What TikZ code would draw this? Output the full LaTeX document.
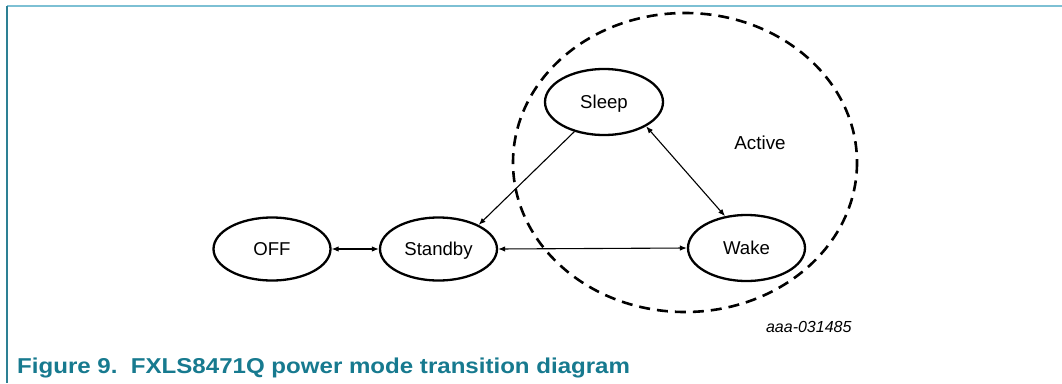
\documentclass[tikz,border=0pt]{standalone}
\usepackage{fontspec}
\setmainfont{Liberation Sans}
\newfontfamily\capfont[FakeStretch=1.12]{Liberation Sans}
\usetikzlibrary{shapes.geometric,arrows.meta}
\definecolor{captionteal}{RGB}{23,122,143}
\definecolor{topblue}{RGB}{125,192,212}
\definecolor{sideteal}{RGB}{45,128,148}
\begin{document}
\begin{tikzpicture}[x=1pt,y=-1pt,
  state/.style={ellipse,draw,line width=2.3pt,minimum width=117pt,minimum height=63pt,inner sep=0pt,text height=13.3pt,text depth=0pt,font=\fontsize{18.6}{20}\selectfont},
  conn/.style={line width=1.1pt,{Latex[length=7pt,width=5.5pt]}-{Latex[length=7pt,width=5.5pt]}},
  oneway/.style={line width=1.1pt,-{Latex[length=7pt,width=5.5pt]}},
  region/.style={draw,line width=2.6pt,dash pattern=on 11pt off 7pt}]
\useasboundingbox (0,0) rectangle (1062,383);
\fill[white] (0,0) rectangle (1062,383);
% frame
\draw[topblue,line width=1.6pt] (7,6) -- (1062,6);
\draw[sideteal,line width=1.6pt] (7,6) -- (7,383);
% active region
\draw[region] (685,162.5) ellipse [x radius=172, y radius=149.5];
\node[font=\fontsize{18.8}{20}\selectfont,text height=13.5pt,text depth=0pt] (active) at (760,143) {Active};
% states
\node[state] (off) at (272,249) {OFF};
\node[state] (standby) at (438.5,249) {Standby};
\node[state,minimum width=118pt,minimum height=66pt] (sleep) at (604,102) {Sleep};
\node[state,minimum height=66pt] (wake) at (746.5,248) {Wake};
% connectors
\draw[conn] (off) -- (standby);
\draw[conn] (standby.east) -- (wake.west);
\draw[oneway] (sleep.-135) -- (standby.31);
\draw[conn] (sleep.-30) -- (wake.124);
% labels
\node[font=\itshape\fontsize{16}{18}\selectfont,anchor=base east] (id) at (855,332) {aaa-031485};
\node[font=\capfont\bfseries\fontsize{21.5}{24}\selectfont,text=captionteal,anchor=base west,inner sep=0pt] (cap) at (17,373) {Figure 9.\ \ FXLS8471Q power mode transition diagram};
\end{tikzpicture}
\end{document}
